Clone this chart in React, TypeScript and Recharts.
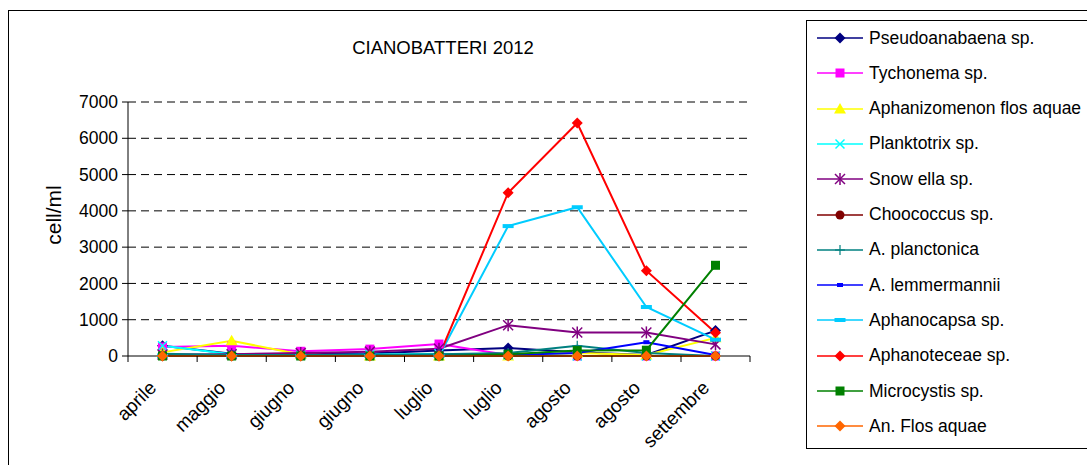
import React from "react";
import { LineChart, Line, XAxis, YAxis, CartesianGrid } from "recharts";

const categories = ["aprile", "maggio", "giugno", "giugno", "luglio", "luglio", "agosto", "agosto", "settembre"];

const pseudoanabaena = [280, 60, 50, 70, 150, 220, 100, 30, 700];
const tychonema = [250, 280, 130, 190, 330, 30, 0, 0, 0];
const aphanizomenon = [100, 420, 40, 0, 0, 0, 80, 30, 500];
const planktotrix = [280, 50, 20, 40, 60, 30, 0, 0, 0];
const snowella = [40, 50, 80, 120, 200, 850, 650, 650, 320];
const choococcus = [0, 0, 0, 0, 0, 0, 0, 0, 0];
const planctonica = [60, 30, 30, 30, 50, 80, 280, 80, 0];
const lemmermannii = [0, 0, 0, 0, 0, 30, 80, 380, 30];
const aphanocapsa = [0, 0, 0, 0, 0, 3580, 4100, 1350, 450];
const aphanoteceae = [0, 0, 0, 0, 0, 4500, 6420, 2350, 640];
const microcystis = [0, 0, 0, 0, 0, 50, 150, 160, 2500];
const anFlosAquae = [0, 0, 0, 0, 0, 0, 0, 0, 0];

const yTicks = [0, 1000, 2000, 3000, 4000, 5000, 6000, 7000];

type Shape = "diamond" | "square" | "triangle" | "x" | "star" | "circle" | "plus" | "dash" | "bar";

const series: { key: string; name: string; color: string; shape: Shape; values: number[] }[] = [
  { key: "s1", name: "Pseudoanabaena sp.", color: "#000080", shape: "diamond", values: pseudoanabaena },
  { key: "s2", name: "Tychonema sp.", color: "#FF00FF", shape: "square", values: tychonema },
  { key: "s3", name: "Aphanizomenon flos aquae", color: "#FFFF00", shape: "triangle", values: aphanizomenon },
  { key: "s4", name: "Planktotrix sp.", color: "#00FFFF", shape: "x", values: planktotrix },
  { key: "s5", name: "Snow ella sp.", color: "#800080", shape: "star", values: snowella },
  { key: "s6", name: "Choococcus sp.", color: "#800000", shape: "circle", values: choococcus },
  { key: "s7", name: "A. planctonica", color: "#008080", shape: "plus", values: planctonica },
  { key: "s8", name: "A. lemmermannii", color: "#0000FF", shape: "dash", values: lemmermannii },
  { key: "s9", name: "Aphanocapsa sp.", color: "#00CCFF", shape: "bar", values: aphanocapsa },
  { key: "s10", name: "Aphanoteceae sp.", color: "#FF0000", shape: "diamond", values: aphanoteceae },
  { key: "s11", name: "Microcystis sp.", color: "#008000", shape: "square", values: microcystis },
  { key: "s12", name: "An. Flos aquae", color: "#FF6600", shape: "diamond", values: anFlosAquae },
];

const data = categories.map((c, i) => {
  const row: Record<string, string | number> = { cat: c };
  series.forEach((s) => (row[s.key] = s.values[i]));
  return row;
});

function Marker({ shape, color, cx, cy }: { shape: Shape; color: string; cx: number; cy: number }) {
  switch (shape) {
    case "diamond":
      return <polygon points={`${cx},${cy - 5.5} ${cx + 5.5},${cy} ${cx},${cy + 5.5} ${cx - 5.5},${cy}`} fill={color} />;
    case "square":
      return <rect x={cx - 4.5} y={cy - 4.5} width={9} height={9} fill={color} />;
    case "triangle":
      return <polygon points={`${cx},${cy - 6} ${cx + 6},${cy + 4.5} ${cx - 6},${cy + 4.5}`} fill={color} />;
    case "x":
      return (
        <g stroke={color} strokeWidth={1.5}>
          <line x1={cx - 4.5} y1={cy - 4.5} x2={cx + 4.5} y2={cy + 4.5} />
          <line x1={cx - 4.5} y1={cy + 4.5} x2={cx + 4.5} y2={cy - 4.5} />
        </g>
      );
    case "star":
      return (
        <g stroke={color} strokeWidth={1.5}>
          <line x1={cx - 5} y1={cy - 5} x2={cx + 5} y2={cy + 5} />
          <line x1={cx - 5} y1={cy + 5} x2={cx + 5} y2={cy - 5} />
          <line x1={cx} y1={cy - 6} x2={cx} y2={cy + 6} />
        </g>
      );
    case "circle":
      return <circle cx={cx} cy={cy} r={4.5} fill={color} />;
    case "plus":
      return (
        <g stroke={color} strokeWidth={1.2}>
          <line x1={cx - 5} y1={cy} x2={cx + 5} y2={cy} />
          <line x1={cx} y1={cy - 5} x2={cx} y2={cy + 5} />
        </g>
      );
    case "dash":
      return <rect x={cx - 3} y={cy - 2} width={6} height={4} fill={color} />;
    case "bar":
      return <rect x={cx - 5.5} y={cy - 2} width={11} height={4} fill={color} />;
  }
}

const makeDot = (shape: Shape, color: string) => (props: any) => {
  const { cx, cy, index } = props;
  if (cx == null || cy == null) return <g key={index} />;
  return (
    <g key={index}>
      <Marker shape={shape} color={color} cx={cx} cy={cy} />
    </g>
  );
};

const BAND = 69;
const font = "'Liberation Sans', Arial, sans-serif";

function XTick(props: any) {
  const { x, y, payload, index } = props;
  const last = index === categories.length - 1;
  const tx = x - 5;
  const ty = y + 33;
  return (
    <g>
      <line x1={x - BAND / 2} y1={y} x2={x - BAND / 2} y2={y + 6} stroke="#000" />
      {last && <line x1={x + BAND / 2} y1={y} x2={x + BAND / 2} y2={y + 6} stroke="#000" />}
      <text
        x={tx}
        y={ty}
        textAnchor="end"
        transform={`rotate(-45 ${tx} ${ty})`}
        fontSize={19}
        fill="#000"
        fontFamily={font}
      >
        {payload.value}
      </text>
    </g>
  );
}

function YLabel(props: any) {
  const { viewBox } = props;
  const cx = viewBox.x + 3;
  const cy = viewBox.y + viewBox.height / 2 - 14;
  return (
    <text
      x={cx}
      y={cy}
      textAnchor="middle"
      transform={`rotate(-90 ${cx} ${cy})`}
      fontSize={21}
      fill="#000"
      fontFamily={font}
    >
      cell/ml
    </text>
  );
}

export default function App() {
  return (
    <div style={{ position: "absolute", left: 0, top: 0, width: 1087, height: 465, background: "#fff", overflow: "hidden", fontFamily: font }}>
      <div style={{ position: "absolute", left: 8, top: 10, width: 1100, height: 470, border: "1px solid #000" }} />
      <div style={{ position: "absolute", left: 228, top: 37, width: 430, textAlign: "center", fontSize: 18.5, color: "#000" }}>
        CIANOBATTERI 2012
      </div>
      <div style={{ position: "absolute", left: 0, top: 0 }}>
        <LineChart width={1087} height={465} data={data} margin={{ top: 102, right: 337, bottom: 49, left: 58 }}>
          <CartesianGrid vertical={false} stroke="#000" strokeDasharray="8 5" horizontalValues={[1000, 2000, 3000, 4000, 5000, 6000, 7000]} />
          <XAxis
            dataKey="cat"
            interval={0}
            height={60}
            stroke="#000"
            tickLine={false}
            tickSize={0}
            tickMargin={0}
            padding={{ left: 34.5, right: 34.5 }}
            tick={<XTick />}
          />
          <YAxis
            width={70}
            domain={[0, 7000]}
            ticks={yTicks}
            stroke="#000"
            tickSize={6}
            tickMargin={4}
            tick={{ fontSize: 17.5, fill: "#000", fontFamily: font }}
            label={<YLabel />}
          />
          {series.map((s) => (
            <Line
              key={s.key}
              dataKey={s.key}
              name={s.name}
              stroke={s.color}
              strokeWidth={2}
              dot={makeDot(s.shape, s.color)}
              activeDot={false}
              isAnimationActive={false}
            />
          ))}
        </LineChart>
      </div>
      <div style={{ position: "absolute", left: 806, top: 20, width: 300, height: 427, border: "1px solid #000" }}>
        {series.map((s, i) => (
          <div key={s.key} style={{ position: "absolute", left: 0, top: 7 + i * 35.3, height: 20, display: "flex", alignItems: "center" }}>
            <svg width={62} height={20}>
              <line x1={10} y1={10} x2={56} y2={10} stroke={s.color} strokeWidth={1.5} />
              <Marker shape={s.shape} color={s.color} cx={33} cy={10} />
            </svg>
            <span style={{ fontSize: 17.5, color: "#000", whiteSpace: "nowrap" }}>{s.name}</span>
          </div>
        ))}
      </div>
    </div>
  );
}
